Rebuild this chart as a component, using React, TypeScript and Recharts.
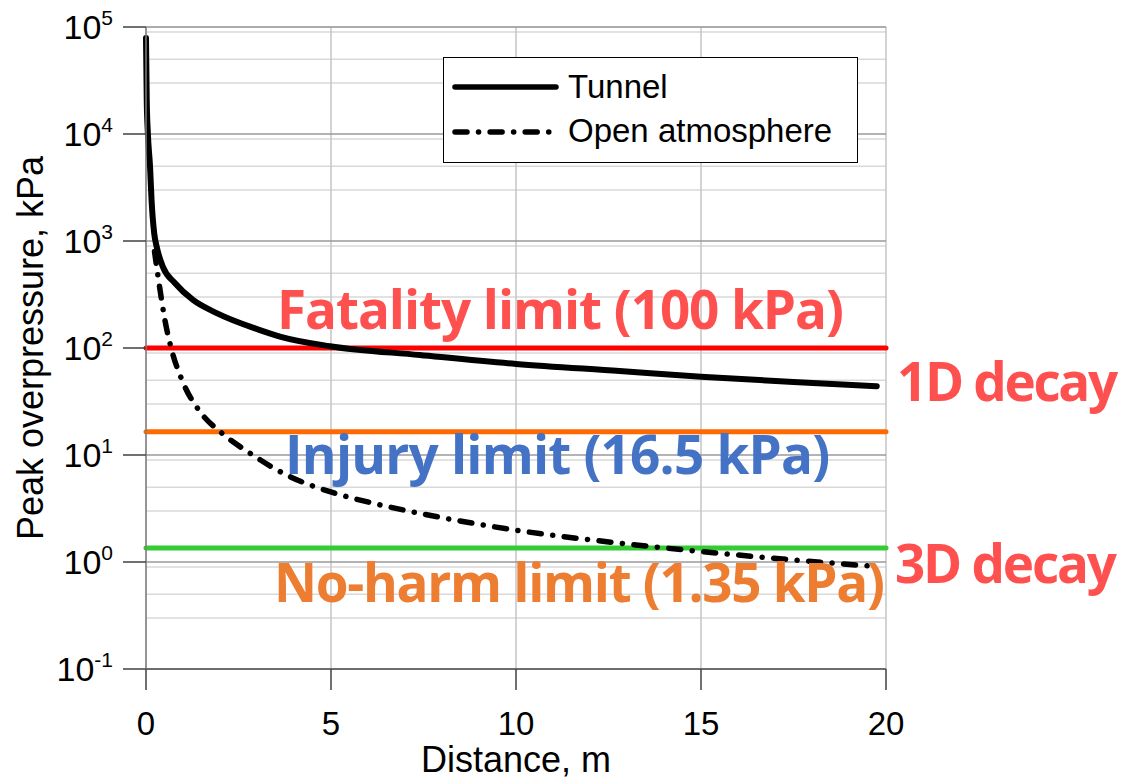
import React from "react";
import {
  LineChart,
  Line,
  XAxis,
  YAxis,
  CartesianGrid,
  Legend,
  ReferenceDot,
  Label,
} from "recharts";

// distance (m) vs peak overpressure (kPa)
const tunnel = [
  { d: 0, p: 78900 },
  { d: 0.02, p: 20800 },
  { d: 0.05, p: 10200 },
  { d: 0.11, p: 4900 },
  { d: 0.15, p: 2420 },
  { d: 0.22, p: 1190 },
  { d: 0.29, p: 880 },
  { d: 0.46, p: 570 },
  { d: 0.78, p: 405 },
  { d: 1.27, p: 281 },
  { d: 1.91, p: 212 },
  { d: 3.08, p: 147 },
  { d: 3.62, p: 128 },
  { d: 4.97, p: 104 },
  { d: 7.4, p: 86 },
  { d: 10, p: 71 },
  { d: 12.8, p: 61 },
  { d: 15, p: 54 },
  { d: 17.5, p: 48 },
  { d: 19.75, p: 44 },
];

const openAtmosphere = [
  { d: 0.23, p: 800 },
  { d: 0.38, p: 348 },
  { d: 0.51, p: 183 },
  { d: 0.67, p: 103 },
  { d: 1.01, p: 46.8 },
  { d: 1.46, p: 25.4 },
  { d: 2.05, p: 16 },
  { d: 2.81, p: 10.4 },
  { d: 3.8, p: 6.5 },
  { d: 4.97, p: 4.54 },
  { d: 6.2, p: 3.5 },
  { d: 7.4, p: 2.85 },
  { d: 9.97, p: 1.99 },
  { d: 12.8, p: 1.5 },
  { d: 15.02, p: 1.25 },
  { d: 17.3, p: 1.06 },
  { d: 19.5, p: 0.92 },
];

const fatalityLimit = 100;
const injuryLimit = 16.5;
const noHarmLimit = 1.35;

const xRange = [0, 20];
const xTicks = [0, 5, 10, 15, 20];
const yRange = [0.1, 100000];
const yTicks = [0.1, 1, 10, 100, 1000, 10000, 100000];

const seriesNames = ["Tunnel", "Open atmosphere"];

const limitLine = (v: number) => xRange.map((d) => ({ d, p: v }));

// minor log grid: 2..9 of each decade
const minorGrid: number[] = [];
yTicks.slice(0, -1).forEach((dec) => {
  for (let m = 2; m <= 9; m++) minorGrid.push(dec * m);
});

const AXIS_FONT = "'Liberation Sans', Arial, sans-serif";
const NOTE_FONT = "'Open Sans', sans-serif";
const DASH_DOT = "12 11.5 0.1 11.5";

const PowerTick = ({ x, y, payload }: any) => {
  const exp = Math.round(Math.log10(payload.value));
  return (
    <text x={x} y={y} textAnchor="end" fontFamily={AXIS_FONT} fill="#000">
      <tspan fontSize={34} dy={12}>10</tspan>
      <tspan fontSize={21} dy={-14}>{exp}</tspan>
    </text>
  );
};

const Note = ({ viewBox, text, color, dy, width }: any) => {
  const cx = viewBox.x + viewBox.width / 2;
  const cy = viewBox.y + viewBox.height / 2;
  return (
    <text
      x={cx}
      y={cy + dy}
      fill={color}
      fontFamily={NOTE_FONT}
      fontWeight={700}
      fontSize={53}
      textLength={width}
    >
      {text}
    </text>
  );
};

const LegendBox = ({ payload }: any) => {
  const items = (payload || [])
    .filter((p: any) => seriesNames.includes(p.value))
    .sort((a: any, b: any) => seriesNames.indexOf(a.value) - seriesNames.indexOf(b.value));
  return (
    <div
      style={{
        width: 415,
        height: 106,
        border: "1px solid #000",
        background: "#fff",
        boxSizing: "border-box",
      }}
    >
      <svg width={413} height={104}>
        {items.map((it: any, i: number) => (
          <g key={it.value}>
            <line
              x1={11}
              x2={112}
              y1={29 + i * 45}
              y2={29 + i * 45}
              stroke="#000"
              strokeWidth={5.5}
              strokeLinecap="round"
              strokeDasharray={it.payload?.strokeDasharray}
            />
            <text
              x={124}
              y={40 + i * 44}
              fontFamily={AXIS_FONT}
              fontSize={33}
              fill="#000"
            >
              {it.value}
            </text>
          </g>
        ))}
      </svg>
    </div>
  );
};

export default function App() {
  return (
    <div style={{ position: "absolute", left: 0, top: 0, background: "#fff" }}>
      <LineChart
        width={1122}
        height={779}
        margin={{ top: 27, right: 236, bottom: 0, left: 0 }}
        style={{ fontFamily: AXIS_FONT }}
      >
        <CartesianGrid
          yAxisId="minor"
          vertical={false}
          stroke="#d9d9d9"
          strokeWidth={1.5}
        />
        <CartesianGrid horizontal={false} stroke="#c4c4c4" strokeWidth={1.5} />
        <CartesianGrid vertical={false} stroke="#9a9a9a" strokeWidth={1.5} />
        <XAxis
          type="number"
          dataKey="d"
          domain={xRange}
          ticks={xTicks}
          height={110}
          tickSize={21}
          tickMargin={22}
          tick={{ fontSize: 33, fill: "#000", fontFamily: AXIS_FONT }}
          axisLine={{ stroke: "#595959", strokeWidth: 1.5 }}
          tickLine={{ stroke: "#404040", strokeWidth: 1.5 }}
        >
          <Label
            value="Distance, m"
            position="insideBottom"
            offset={7}
            style={{ fontSize: 36, fill: "#000", fontFamily: AXIS_FONT }}
          />
        </XAxis>
        <YAxis
          yAxisId="minor"
          hide
          scale="log"
          domain={yRange}
          ticks={minorGrid}
          allowDataOverflow
        />
        <YAxis
          scale="log"
          domain={yRange}
          ticks={yTicks}
          allowDataOverflow
          width={146}
          tickSize={23}
          tickMargin={10}
          tick={<PowerTick />}
          axisLine={{ stroke: "#808080", strokeWidth: 1.5 }}
          tickLine={{ stroke: "#404040", strokeWidth: 1.5 }}
        >
          <Label
            content={({ viewBox }: any) => {
              const cx = 43;
              const cy = viewBox.y + viewBox.height / 2;
              return (
                <text
                  x={cx}
                  y={cy}
                  transform={`rotate(-90, ${cx}, ${cy})`}
                  textAnchor="middle"
                  fontFamily={AXIS_FONT}
                  fontSize={36}
                  fill="#000"
                >
                  Peak overpressure, kPa
                </text>
              );
            }}
          />
        </YAxis>

        <Legend
          layout="vertical"
          align="center"
          verticalAlign="middle"
          wrapperStyle={{ left: 443, top: 57, width: 415, height: 106 }}
          content={<LegendBox />}
        />

        <Line
          data={limitLine(fatalityLimit)}
          dataKey="p"
          stroke="#ff0000"
          strokeWidth={5}
          strokeLinecap="round"
          dot={false}
          activeDot={false}
          legendType="none"
          isAnimationActive={false}
        />
        <Line
          data={limitLine(injuryLimit)}
          dataKey="p"
          stroke="#ff6a00"
          strokeWidth={5}
          strokeLinecap="round"
          dot={false}
          activeDot={false}
          legendType="none"
          isAnimationActive={false}
        />
        <Line
          data={limitLine(noHarmLimit)}
          dataKey="p"
          stroke="#33cc33"
          strokeWidth={5}
          strokeLinecap="round"
          dot={false}
          activeDot={false}
          legendType="none"
          isAnimationActive={false}
        />

        <Line
          name={seriesNames[0]}
          data={tunnel}
          dataKey="p"
          type="monotone"
          stroke="#000"
          strokeWidth={6}
          strokeLinecap="round"
          dot={false}
          activeDot={false}
          isAnimationActive={false}
        />
        <Line
          name={seriesNames[1]}
          data={openAtmosphere}
          dataKey="p"
          type="monotone"
          stroke="#000"
          strokeWidth={5.5}
          strokeLinecap="round"
          strokeDasharray={DASH_DOT}
          dot={false}
          activeDot={false}
          isAnimationActive={false}
        />

        <ReferenceDot
          x={3.54}
          y={fatalityLimit}
          r={0}
          fill="none"
          stroke="none"
          ifOverflow="visible"
          label={<Note text="Fatality limit (100 kPa)" color="#ff5050" dy={-19} width={567} />}
        />
        <ReferenceDot
          x={20.3}
          y={fatalityLimit}
          r={0}
          fill="none"
          stroke="none"
          ifOverflow="visible"
          label={<Note text="1D decay" color="#ff5050" dy={53} width={221} />}
        />
        <ReferenceDot
          x={3.76}
          y={injuryLimit}
          r={0}
          fill="none"
          stroke="none"
          ifOverflow="visible"
          label={<Note text="Injury limit (16.5 kPa)" color="#4472c4" dy={42} width={545} />}
        />
        <ReferenceDot
          x={20.24}
          y={noHarmLimit}
          r={0}
          fill="none"
          stroke="none"
          ifOverflow="visible"
          label={<Note text="3D decay" color="#ff5050" dy={35} width={222} />}
        />
        <ReferenceDot
          x={3.46}
          y={noHarmLimit}
          r={0}
          fill="none"
          stroke="none"
          ifOverflow="visible"
          label={<Note text="No-harm limit (1.35 kPa)" color="#ed7d31" dy={54} width={611} />}
        />
      </LineChart>
    </div>
  );
}
